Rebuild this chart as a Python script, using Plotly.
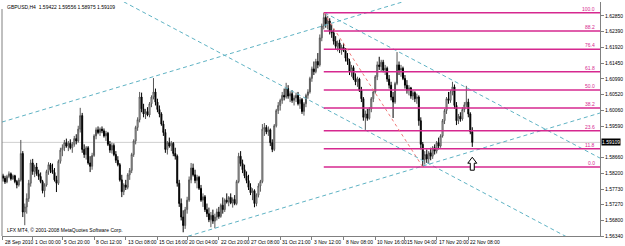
import plotly.graph_objects as go

symbol = "GBPUSD,H4"
footer = "LFX MT4, \u00a9 2001-2008 MetaQuotes Software Corp."

open_ = [
1.5812,1.5805,1.5794,1.5810,1.5818,1.5803,1.5812,1.5795,1.5785,1.5800,
1.5878,1.5705,1.5720,1.5745,1.5790,1.5850,1.5825,1.5838,1.5818,1.5810,
1.5795,1.5768,1.5785,1.5825,1.5845,1.5830,1.5822,1.5800,1.5790,1.5855,
1.5888,1.5895,1.5910,1.5900,1.5908,1.5895,1.5905,1.5922,1.5915,1.5950,
1.5990,1.5890,1.5875,1.5895,1.5850,1.5840,1.5872,1.5930,1.5948,1.5940,
1.5950,1.5945,1.5930,1.5938,1.5905,1.5888,1.5902,1.5875,1.5858,1.5845,
1.5800,1.5765,1.5785,1.5778,1.5815,1.5828,1.5875,1.5915,1.5955,1.5978,
1.6045,1.6010,1.5995,1.6002,1.5992,1.6025,1.6045,1.6060,1.6030,1.6008,
1.5995,1.5965,1.5940,1.5890,1.5910,1.5900,1.5908,1.5878,1.5870,1.5790,
1.5730,1.5690,1.5665,1.5712,1.5740,1.5800,1.5835,1.5815,1.5798,1.5808,
1.5775,1.5740,1.5750,1.5712,1.5700,1.5682,1.5695,1.5678,1.5690,1.5705,
1.5692,1.5725,1.5712,1.5740,1.5735,1.5748,1.5732,1.5742,1.5730,1.5795,
1.5870,1.5848,1.5830,1.5812,1.5798,1.5778,1.5762,1.5768,1.5730,1.5755,
1.5782,1.5795,1.5950,1.5955,1.5942,1.5948,1.5910,1.5890,1.5960,1.6005,
1.6020,1.6035,1.6050,1.6045,1.6070,1.6048,1.6055,1.6035,1.6042,1.6050,
1.6025,1.6038,1.6002,1.6025,1.6050,1.6060,1.6100,1.6128,1.6120,1.6150,
1.6140,1.6220,1.6255,1.6280,1.6262,1.6270,1.6240,1.6235,1.6210,1.6195,
1.6205,1.6185,1.6192,1.6182,1.6160,1.6150,1.6120,1.6132,1.6100,1.6090,
1.6098,1.6065,1.6040,1.5985,1.5995,1.5982,1.6010,1.6040,1.6060,1.6105,
1.6140,1.6135,1.6148,1.6125,1.6130,1.6098,1.6080,1.6045,1.6030,1.6085,
1.6140,1.6125,1.6130,1.6100,1.6080,1.6065,1.6072,1.6048,1.6058,1.6040,
1.6045,1.5975,1.5905,1.5860,1.5875,1.5862,1.5880,1.5870,1.5895,1.5885,
1.5910,1.5900,1.5930,1.5975,1.6005,1.6040,1.6035,1.6060,1.6075,1.6020,
1.5975,1.5988,1.5980,1.6008,1.6022,1.6030,1.5995,1.59422]

high = [
1.5818,1.5812,1.5815,1.5825,1.5822,1.5816,1.5815,1.5800,1.5806,1.5918,
1.5885,1.5730,1.5760,1.5800,1.5860,1.5862,1.5845,1.5850,1.5830,1.5822,
1.5800,1.5790,1.5830,1.5852,1.5850,1.5848,1.5835,1.5812,1.5860,1.5895,
1.5905,1.5918,1.5922,1.5915,1.5920,1.5912,1.5930,1.5935,1.5960,1.6013,
1.5998,1.5905,1.5900,1.5900,1.5870,1.5880,1.5935,1.5955,1.5958,1.5955,
1.5958,1.5952,1.5945,1.5942,1.5915,1.5910,1.5908,1.5885,1.5870,1.5850,
1.5815,1.5790,1.5800,1.5820,1.5835,1.5880,1.5920,1.5960,1.5985,1.6060,
1.6058,1.6025,1.6010,1.6015,1.6030,1.6050,1.6101,1.6070,1.6040,1.6020,
1.6000,1.5975,1.5950,1.5915,1.5925,1.5915,1.5912,1.5895,1.5875,1.5800,
1.5745,1.5710,1.5720,1.5750,1.5810,1.5850,1.5848,1.5830,1.5815,1.5812,
1.5785,1.5760,1.5755,1.5730,1.5718,1.5705,1.5712,1.5700,1.5715,1.5720,
1.5730,1.5748,1.5745,1.5760,1.5752,1.5760,1.5748,1.5755,1.5800,1.5880,
1.5885,1.5860,1.5845,1.5825,1.5815,1.5790,1.5775,1.5772,1.5760,1.5790,
1.5800,1.5965,1.5968,1.5962,1.5958,1.5952,1.5920,1.5965,1.6010,1.6030,
1.6040,1.6060,1.6070,1.6087,1.6080,1.6062,1.6065,1.6050,1.6058,1.6060,
1.6045,1.6042,1.6030,1.6055,1.6068,1.6105,1.6135,1.6150,1.6158,1.6175,
1.6230,1.6262,1.6294,1.6290,1.6285,1.6278,1.6260,1.6245,1.6225,1.6212,
1.6215,1.6200,1.6205,1.6190,1.6175,1.6158,1.6140,1.6138,1.6115,1.6105,
1.6102,1.6075,1.6045,1.6005,1.6010,1.6015,1.6045,1.6065,1.6110,1.6150,
1.6164,1.6155,1.6155,1.6140,1.6135,1.6110,1.6090,1.6060,1.6090,1.6178,
1.6150,1.6140,1.6135,1.6110,1.6095,1.6080,1.6075,1.6065,1.6062,1.6055,
1.6050,1.5985,1.5912,1.5885,1.5890,1.5885,1.5895,1.5900,1.5905,1.5915,
1.5925,1.5935,1.5980,1.6010,1.6045,1.6060,1.6065,1.6090,1.6082,1.6030,
1.5995,1.6000,1.6015,1.6030,1.6078,1.6040,1.6000,1.59556]

low = [
1.5795,1.5788,1.5790,1.5805,1.5798,1.5800,1.5790,1.5775,1.5780,1.5795,
1.5690,1.5666,1.5700,1.5735,1.5780,1.5815,1.5808,1.5812,1.5800,1.5790,
1.5760,1.5749,1.5780,1.5815,1.5820,1.5818,1.5795,1.5764,1.5785,1.5848,
1.5870,1.5885,1.5895,1.5885,1.5890,1.5880,1.5898,1.5905,1.5910,1.5940,
1.5880,1.5865,1.5860,1.5845,1.5823,1.5830,1.5868,1.5920,1.5935,1.5930,
1.5938,1.5925,1.5915,1.5900,1.5880,1.5878,1.5870,1.5850,1.5840,1.5795,
1.5749,1.5755,1.5770,1.5772,1.5800,1.5820,1.5868,1.5905,1.5945,1.5970,
1.6000,1.5985,1.5980,1.5988,1.5985,1.6015,1.6038,1.6020,1.6000,1.5985,
1.5960,1.5930,1.5880,1.5875,1.5895,1.5885,1.5870,1.5860,1.5780,1.5720,
1.5680,1.5645,1.5655,1.5700,1.5735,1.5790,1.5810,1.5790,1.5775,1.5770,
1.5735,1.5720,1.5705,1.5690,1.5675,1.5660,1.5670,1.5657,1.5680,1.5685,
1.5688,1.5700,1.5705,1.5730,1.5722,1.5728,1.5718,1.5725,1.5725,1.5790,
1.5840,1.5820,1.5805,1.5790,1.5770,1.5755,1.5740,1.5719,1.5722,1.5748,
1.5765,1.5790,1.5930,1.5935,1.5930,1.5900,1.5882,1.5885,1.5955,1.5995,
1.6005,1.6025,1.6035,1.6040,1.6040,1.6030,1.6028,1.6020,1.6030,1.6020,
1.6010,1.5995,1.5990,1.6015,1.6040,1.6055,1.6090,1.6110,1.6115,1.6130,
1.6135,1.6210,1.6245,1.6250,1.6245,1.6230,1.6220,1.6200,1.6185,1.6180,
1.6175,1.6170,1.6178,1.6150,1.6140,1.6110,1.6105,1.6095,1.6080,1.6075,
1.6060,1.6030,1.5975,1.5947,1.5975,1.5978,1.6000,1.6030,1.6055,1.6095,
1.6125,1.6120,1.6118,1.6110,1.6090,1.6070,1.6035,1.5983,1.6025,1.6080,
1.6110,1.6105,1.6095,1.6070,1.6055,1.6050,1.6040,1.6036,1.6030,1.6025,
1.5960,1.5890,1.5838,1.5845,1.5850,1.5848,1.5858,1.5862,1.5875,1.5878,
1.5890,1.5895,1.5925,1.5965,1.5995,1.6025,1.6028,1.6050,1.6010,1.5962,
1.5965,1.5972,1.5975,1.6000,1.6015,1.5985,1.5935,1.58975]

close = [
1.5805,1.5794,1.5810,1.5818,1.5803,1.5812,1.5795,1.5785,1.5800,1.5878,
1.5705,1.5720,1.5745,1.5790,1.5850,1.5825,1.5838,1.5818,1.5810,1.5795,
1.5768,1.5785,1.5825,1.5845,1.5830,1.5822,1.5800,1.5790,1.5855,1.5888,
1.5895,1.5910,1.5900,1.5908,1.5895,1.5905,1.5922,1.5915,1.5950,1.5990,
1.5890,1.5875,1.5895,1.5850,1.5840,1.5872,1.5930,1.5948,1.5940,1.5950,
1.5945,1.5930,1.5938,1.5905,1.5888,1.5902,1.5875,1.5858,1.5845,1.5800,
1.5765,1.5785,1.5778,1.5815,1.5828,1.5875,1.5915,1.5955,1.5978,1.6045,
1.6010,1.5995,1.6002,1.5992,1.6025,1.6045,1.6060,1.6030,1.6008,1.5995,
1.5965,1.5940,1.5890,1.5910,1.5900,1.5908,1.5878,1.5870,1.5790,1.5730,
1.5690,1.5665,1.5712,1.5740,1.5800,1.5835,1.5815,1.5798,1.5808,1.5775,
1.5740,1.5750,1.5712,1.5700,1.5682,1.5695,1.5678,1.5690,1.5705,1.5692,
1.5725,1.5712,1.5740,1.5735,1.5748,1.5732,1.5742,1.5730,1.5795,1.5870,
1.5848,1.5830,1.5812,1.5798,1.5778,1.5762,1.5768,1.5730,1.5755,1.5782,
1.5795,1.5950,1.5955,1.5942,1.5948,1.5910,1.5890,1.5960,1.6005,1.6020,
1.6035,1.6050,1.6045,1.6070,1.6048,1.6055,1.6035,1.6042,1.6050,1.6025,
1.6038,1.6002,1.6025,1.6050,1.6060,1.6100,1.6128,1.6120,1.6150,1.6140,
1.6220,1.6255,1.6280,1.6262,1.6270,1.6240,1.6235,1.6210,1.6195,1.6205,
1.6185,1.6192,1.6182,1.6160,1.6150,1.6120,1.6132,1.6100,1.6090,1.6098,
1.6065,1.6040,1.5985,1.5995,1.5982,1.6010,1.6040,1.6060,1.6105,1.6140,
1.6135,1.6148,1.6125,1.6130,1.6098,1.6080,1.6045,1.6030,1.6085,1.6140,
1.6125,1.6130,1.6100,1.6080,1.6065,1.6072,1.6048,1.6058,1.6040,1.6045,
1.5975,1.5905,1.5860,1.5875,1.5862,1.5880,1.5870,1.5895,1.5885,1.5910,
1.5900,1.5930,1.5975,1.6005,1.6040,1.6035,1.6060,1.6075,1.6020,1.5975,
1.5988,1.5980,1.6008,1.6022,1.6030,1.5995,1.5942,1.59109]

# x-axis time labels (bar index where each label sits)
x_tick_index = [0, 15, 30, 46, 62, 78, 93, 109, 124, 140, 156, 172, 188, 203, 219, 235]
x_tick_labels = ["28 Sep 2010", "1 Oct 00:00", "5 Oct 20:00", "8 Oct 12:00", "13 Oct 08:00",
                 "15 Oct 16:00", "20 Oct 04:00", "22 Oct 20:00", "27 Oct 08:00", "31 Oct 21:00",
                 "3 Nov 12:00", "8 Nov 08:00", "10 Nov 16:00", "15 Nov 04:00", "17 Nov 20:00",
                 "22 Nov 08:00"]

# y-axis price labels (the 1.59120 label sits under the current-price box)
y_tick_labels = ["1.62850", "1.62390", "1.61920", "1.61450", "1.60990", "1.60520", "1.60060",
                 "1.59590", "1.58660", "1.58200", "1.57730", "1.57270", "1.56800",
                 "1.56340"]

# Fibonacci retracement: from swing high bar to swing low bar
fib_high_bar = 162
fib_low_bar = 212
fib_levels = [0.0, 11.8, 23.6, 38.2, 50.0, 61.8, 76.4, 88.2, 100.0]

# Trendlines (bar index, price) endpoints
trend_x = [[-0.5, 202.0], [61.0, 285.0], [162.5, 301.5], [93.5, 301.5]]
trend_y = [[1.5971, 1.63265], [1.63265, 1.56304], [1.62939, 1.58644], [1.56333, 1.59977]]

# Arrow marker (tip position)
arrow_x = 237
arrow_y = 1.5867

x_range = [-0.5, 301.5]
y_range = [1.5634, 1.6326]

FONT = "Liberation Sans"
CYAN = "#5fb3c4"
FIB = "#d6288f"

n = len(close)
idx = list(range(n))

fig = go.Figure()

# bid line
fig.add_shape(type="line", xref="paper", x0=0, x1=1, yref="y", y0=close[-1], y1=close[-1],
              line=dict(color="#cfcfcf", width=1), layer="below")

# trendlines
for tx, ty in zip(trend_x, trend_y):
    fig.add_trace(go.Scatter(x=tx, y=ty, mode="lines", hoverinfo="skip",
                             line=dict(color=CYAN, width=1, dash="4px,3px"), showlegend=False))

# fib levels
fhi = high[fib_high_bar]
flo = low[fib_low_bar]
for lv in fib_levels:
    p = flo + (fhi - flo) * lv / 100.0
    fig.add_trace(go.Scatter(x=[fib_high_bar, x_range[1]], y=[p, p], mode="lines",
                             hoverinfo="skip", line=dict(color=FIB, width=1.5), showlegend=False))
    fig.add_annotation(x=x_range[1], y=p, xref="x", yref="y", text=f"{lv:.1f}",
                       showarrow=False, xanchor="right", yanchor="bottom", xshift=-3, yshift=-1,
                       font=dict(family=FONT, size=5, color=FIB))

# fib base dotted line
fig.add_trace(go.Scatter(x=[fib_high_bar, fib_low_bar], y=[fhi, flo], mode="lines",
                         hoverinfo="skip", line=dict(color="#f07a7a", width=1, dash="dot"),
                         showlegend=False))

# candles
fig.add_trace(go.Candlestick(
    x=idx, open=open_, high=high, low=low, close=close,
    increasing=dict(line=dict(color="#555555", width=1), fillcolor="#ffffff"),
    decreasing=dict(line=dict(color="#000000", width=1), fillcolor="#000000"),
    whiskerwidth=0, showlegend=False))

# up-arrow (outline), anchored at its tip, sized in pixels
fig.add_shape(type="path", xref="x", yref="y", xsizemode="pixel", ysizemode="pixel",
              xanchor=arrow_x, yanchor=arrow_y,
              path="M0,0 L-4.5,-6 L-2,-6 L-2,-13 L2,-13 L2,-6 L4.5,-6 Z",
              line=dict(color="#000000", width=1), fillcolor="#ffffff")

# x labels (left aligned like MT4)
for xi, lab in zip(x_tick_index, x_tick_labels):
    fig.add_annotation(x=xi, y=0, xref="x", yref="paper", text=lab, showarrow=False,
                       xanchor="left", yanchor="top", xshift=0, yshift=-1,
                       font=dict(family=FONT, size=5, color="#000"))

# title + footer
fig.add_annotation(x=0, y=1, xref="paper", yref="paper", xanchor="left", yanchor="top",
                   xshift=3, yshift=0, showarrow=False,
                   text=f"{symbol}  {open_[-1]:.5f} {high[-1]:.5f} {low[-1]:.5f} {close[-1]:.5f}",
                   font=dict(family=FONT, size=5, color="#000"))
fig.add_annotation(x=0, y=0, xref="paper", yref="paper", xanchor="left", yanchor="bottom",
                   xshift=3, yshift=1, showarrow=False, text=footer,
                   font=dict(family=FONT, size=5, color="#000"))

# current price box
fig.add_annotation(x=1, y=close[-1], xref="paper", yref="y", xanchor="left", yanchor="middle",
                   xshift=1, showarrow=False, text=f"{close[-1]:.5f}", bgcolor="#000000",
                   borderpad=0, font=dict(family=FONT, size=5, color="#ffffff"))

# left frame line
fig.add_shape(type="line", xref="paper", yref="paper", x0=0, x1=0, y0=0, y1=0.97,
              line=dict(color="#808080", width=1))

fig.update_layout(
    width=625, height=246,
    margin=dict(l=2, r=19, t=2, b=10),
    paper_bgcolor="#ffffff", plot_bgcolor="#ffffff",
    showlegend=False,
    xaxis=dict(range=x_range, rangeslider=dict(visible=False), showgrid=False, zeroline=False,
               showline=True, linecolor="#808080", linewidth=1,
               tickvals=x_tick_index, ticktext=["" for _ in x_tick_index],
               ticks="outside", ticklen=3, tickcolor="#808080", fixedrange=True),
    yaxis=dict(range=y_range, side="right", showgrid=False, zeroline=False,
               showline=True, linecolor="#808080", linewidth=1,
               tickvals=[float(s) for s in y_tick_labels], ticktext=y_tick_labels,
               ticks="outside", ticklen=3, tickcolor="#808080",
               tickfont=dict(family=FONT, size=5, color="#000"), fixedrange=True),
)

fig.write_html("out.html")
